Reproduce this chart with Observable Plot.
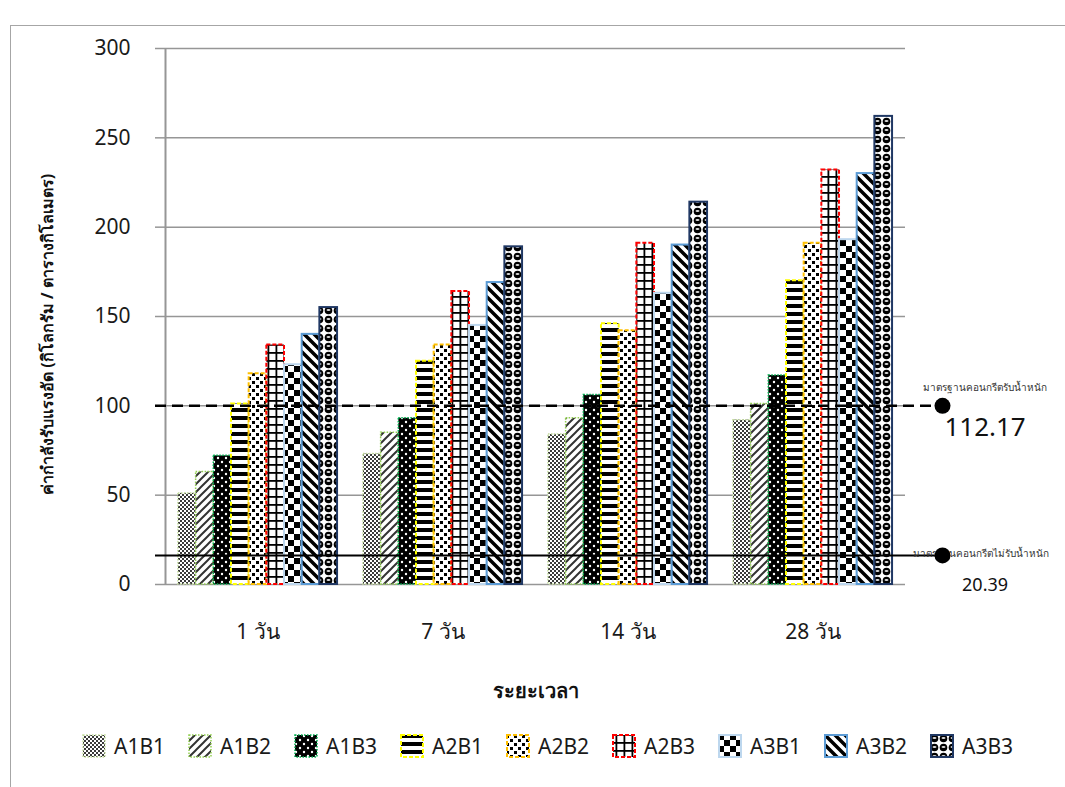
<!DOCTYPE html>
<html>
<head>
<meta charset="utf-8">
<script src="https://cdn.jsdelivr.net/npm/d3@7"></script>
<script src="https://cdn.jsdelivr.net/npm/@observablehq/plot@0.6"></script>
<style>
  html, body { margin: 0; padding: 0; background: #fff; }
  body { width: 1065px; height: 787px; position: relative; overflow: hidden;
         font-family: "Noto Sans", "DejaVu Sans", sans-serif; color: #1a1a1a; }
  #border { position: absolute; left: 10px; top: 25px; width: 1100px; height: 800px;
            border-left: 1.5px solid #a6a6a6; border-top: 1.5px solid #a6a6a6; }
  #chart { position: absolute; left: 0; top: 0; }
  #legend { position: absolute; left: 0; top: 734px; width: 1065px; height: 26px; }
  .item { position: absolute; top: 0; display: flex; align-items: center; gap: 8px;
          font-size: 21px; line-height: 24px; white-space: nowrap; }
  .item svg { display: block; }
</style>
</head>
<body>
<svg width="0" height="0" style="position:absolute">
  <defs>
    <pattern id="p1" patternUnits="userSpaceOnUse" width="4" height="4">
      <rect width="4" height="4" fill="#fff"/>
      <rect x="0" y="0" width="2" height="2" fill="#3a3a3a"/>
      <rect x="2" y="2" width="2" height="2" fill="#3a3a3a"/>
    </pattern>
    <pattern id="p2" patternUnits="userSpaceOnUse" width="8" height="8">
      <rect width="8" height="8" fill="#fff"/>
      <path d="M-2,2 L2,-2 M0,8 L8,0 M6,10 L10,6" stroke="#333" stroke-width="2"/>
    </pattern>
    <pattern id="p3" patternUnits="userSpaceOnUse" width="8" height="8">
      <rect width="8" height="8" fill="#000"/>
      <circle cx="2" cy="2" r="1.2" fill="#fff"/>
      <circle cx="6" cy="6" r="1.2" fill="#fff"/>
    </pattern>
    <pattern id="p4" patternUnits="userSpaceOnUse" width="8" height="8">
      <rect width="8" height="8" fill="#fff"/>
      <rect x="0" y="0" width="8" height="4" fill="#000"/>
    </pattern>
    <pattern id="p5" patternUnits="userSpaceOnUse" width="8" height="8">
      <rect width="8" height="8" fill="#fff"/>
      <rect x="0" y="1" width="3" height="3" fill="#000"/>
      <rect x="4" y="5" width="3" height="3" fill="#000"/>
    </pattern>
    <pattern id="p6" patternUnits="userSpaceOnUse" width="8" height="8">
      <rect width="8" height="8" fill="#fff"/>
      <rect x="0" y="0" width="8" height="1.8" fill="#000"/>
      <rect x="3.5" y="0" width="1.8" height="8" fill="#000"/>
    </pattern>
    <pattern id="p7" patternUnits="userSpaceOnUse" width="12" height="12">
      <rect width="12" height="12" fill="#fff"/>
      <rect x="0" y="0" width="6" height="6" fill="#000"/>
      <rect x="6" y="6" width="6" height="6" fill="#000"/>
    </pattern>
    <pattern id="p8" patternUnits="userSpaceOnUse" width="10" height="10">
      <rect width="10" height="10" fill="#fff"/>
      <path d="M0,0 L10,10 M-5,5 L5,15 M5,-5 L15,5" stroke="#000" stroke-width="3.5"/>
    </pattern>
    <pattern id="p9" patternUnits="userSpaceOnUse" width="9" height="9">
      <rect width="9" height="9" fill="#fff"/>
      <circle cx="4.5" cy="4.5" r="3.8" fill="#000"/>
      <ellipse cx="4.5" cy="4" rx="2" ry="0.9" fill="#ddd"/>
    </pattern>
  </defs>
</svg>
<div id="border"></div>
<div id="chart"></div>
<div id="legend"></div>
<script>
// ---------- data ----------
const groups = ["1 วัน", "7 วัน", "14 วัน", "28 วัน"];
const series = ["A1B1", "A1B2", "A1B3", "A2B1", "A2B2", "A2B3", "A3B1", "A3B2", "A3B3"];
const A1B1 = [51, 73, 84, 92];
const A1B2 = [63, 85, 93, 101];
const A1B3 = [72, 93, 106, 117];
const A2B1 = [101, 125, 146, 170];
const A2B2 = [118, 134, 142, 191];
const A2B3 = [134, 164, 191, 232];
const A3B1 = [123, 145, 163, 193];
const A3B2 = [140, 169, 190, 230];
const A3B3 = [155, 189, 214, 262];
const yTicks = [0, 50, 100, 150, 200, 250, 300];
const refNames = ["มาตรฐานคอนกรีตรับน้ำหนัก", "มาตรฐานคอนกรีตไม่รับน้ำหนัก"];
const refLabels = ["112.17", "20.39"];
const refLevels = [100, 16.3];
const yTitle = "ค่ากำลังรับแรงอัด (กิโลกรัม / ตารางกิโลเมตร)";
const xTitle = "ระยะเวลา";

// ---------- styles ----------
const styles = [
  {fill: "url(#p1)", stroke: "#c6dfa0", dash: "1.5,1.5", sw: 1.5},
  {fill: "url(#p2)", stroke: "#92d050", dash: "1.5,1.5", sw: 1.5},
  {fill: "url(#p3)", stroke: "#00b050", dash: "1.5,1.5", sw: 1.5},
  {fill: "url(#p4)", stroke: "#ffff00", dash: "4,2", sw: 2},
  {fill: "url(#p5)", stroke: "#ffc000", dash: "4,2", sw: 2},
  {fill: "url(#p6)", stroke: "#ff0000", dash: "4,2", sw: 2},
  {fill: "url(#p7)", stroke: "#bdd7ee", dash: null, sw: 2},
  {fill: "url(#p8)", stroke: "#5b9bd5", dash: null, sw: 2},
  {fill: "url(#p9)", stroke: "#203864", dash: null, sw: 2}
];

const valuesBySeries = {A1B1, A1B2, A1B3, A2B1, A2B2, A2B3, A3B1, A3B2, A3B3};
const table = series.flatMap((s, si) =>
  groups.map((g, gi) => ({series: s, si, group: g, gi, value: valuesBySeries[s][gi]})));
const refs = refLevels.map((v, i) => ({level: v, name: refNames[i], label: refLabels[i]}));

const pad = 0.07;
const bw = (1 - 2 * pad) / series.length;
const grey = "#969696";
const font = '"Noto Sans", "DejaVu Sans", sans-serif';

const barMarks = series.map((s, si) => {
  const st = styles[si];
  const o = {
    x1: d => d.gi + pad + d.si * bw,
    x2: d => d.gi + pad + (d.si + 1) * bw,
    y1: 0, y2: "value",
    fill: st.fill, stroke: st.stroke, strokeWidth: st.sw
  };
  if (st.dash) o.strokeDasharray = st.dash;
  return Plot.rectY(table.filter(d => d.series === s), o);
});

const chart = Plot.plot({
  width: 1065,
  height: 720,
  marginLeft: 165,
  marginRight: 160,
  marginTop: 48,
  marginBottom: 136,
  style: {fontFamily: font, fontSize: "21px", color: "#1a1a1a", background: "transparent"},
  x: {domain: [0, groups.length]},
  y: {domain: [0, 300]},
  marks: [
    Plot.ruleY(yTicks, {x1: 0, x2: groups.length, stroke: grey, strokeWidth: 1.5}),
    Plot.axisY({ticks: yTicks, tickSize: 10, tickPadding: 25, stroke: grey, strokeWidth: 1.5, label: null, fontSize: 21}),
    Plot.axisX({ticks: groups.map((g, i) => i + 0.5), tickFormat: t => groups[Math.floor(t)], tickSize: 0, tickPadding: 40, label: null, fontSize: 21}),
    Plot.ruleX([0], {y1: 0, y2: 300, stroke: grey, strokeWidth: 2}),
    ...barMarks,
    Plot.ruleY([refs[0]], {y: "level", x1: -10 / 185, x2: 4.2, stroke: "#000", strokeWidth: 2.5, strokeDasharray: "11,6"}),
    Plot.ruleY([refs[1]], {y: "level", x1: -10 / 185, x2: 4.2, stroke: "#000", strokeWidth: 2}),
    Plot.text([refs[0]], {x: 4.43, y: "level", text: "name", fontSize: 10, fill: "#333", dy: -18}),
    Plot.text([refs[1]], {x: 4.41, y: "level", text: "name", fontSize: 10, fill: "#333", dy: -2}),
    Plot.text([refs[0]], {x: 4.43, y: "level", text: "label", fontSize: 26, fill: "#111", dy: 22}),
    Plot.text([refs[1]], {x: 4.43, y: "level", text: "label", fontSize: 18, fill: "#111", dy: 30}),
    Plot.dot(refs, {x: 4.2, y: "level", r: 8, fill: "#000", stroke: "none"}),
    Plot.text([yTitle], {x: -118 / 185, y: 140, rotate: -90, fontWeight: "bold", fontSize: 16, fill: "#111"}),
    Plot.text([xTitle], {x: groups.length / 2, y: -60, fontWeight: "bold", fontSize: 20, fill: "#111"})
  ]
});
document.getElementById("chart").appendChild(chart);

// ---------- legend ----------
const legend = document.getElementById("legend");
series.forEach((s, i) => {
  const st = styles[i];
  const item = document.createElement("div");
  item.className = "item";
  item.style.left = (82 + i * 106) + "px";
  item.innerHTML =
    `<svg width="24" height="24"><rect x="1" y="1" width="22" height="22" fill="${st.fill}" stroke="${st.stroke}" stroke-width="${st.sw}" ${st.dash ? `stroke-dasharray="${st.dash}"` : ""}/></svg><span>${s}</span>`;
  legend.appendChild(item);
});
</script>
</body>
</html>
